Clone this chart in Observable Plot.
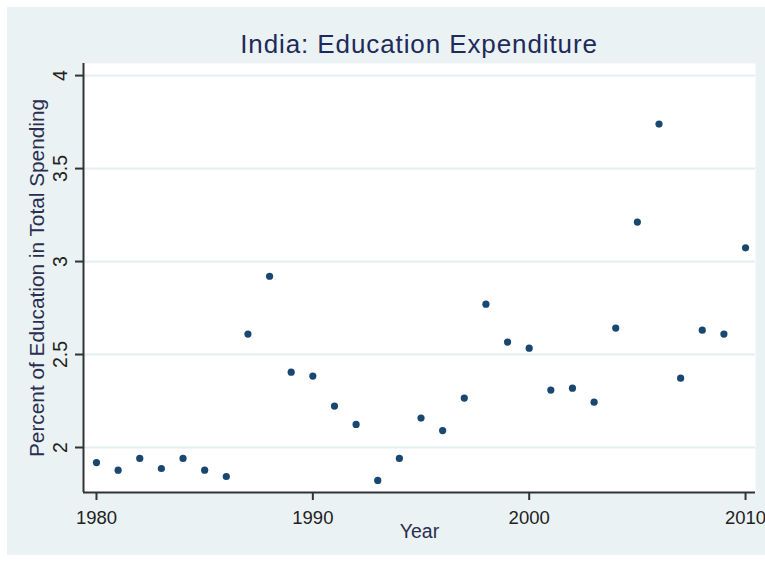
<!DOCTYPE html>
<html>
<head>
<meta charset="utf-8">
<script src="https://cdn.jsdelivr.net/npm/d3@7"></script>
<script src="https://cdn.jsdelivr.net/npm/@observablehq/plot@0.6"></script>
<style>
  html, body { margin: 0; padding: 0; background: #ffffff; }
  #outer { position: relative; width: 765px; height: 563px; background: #ffffff; }
  #inner { position: absolute; left: 7px; top: 7px; width: 758px; height: 548px; background: #eaf2f3; }
  #title { position: absolute; left: 76px; width: 672px; top: 22px; text-align: center;
           font-family: "Liberation Sans", Arial, sans-serif; font-size: 26px; line-height: 30px;
           letter-spacing: 0.9px; color: #1e2a5a; white-space: nowrap; }
  #chart { position: absolute; left: 0; top: 50px; }
  #chart svg { overflow: visible; }
</style>
</head>
<body>
<div id="outer">
  <div id="inner">
    <div id="title">India: Education Expenditure</div>
    <div id="chart"></div>
  </div>
</div>
<script>
const years = [1980,1981,1982,1983,1984,1985,1986,1987,1988,1989,1990,1991,1992,1993,1994,1995,1996,1997,1998,1999,2000,2001,2002,2003,2004,2005,2006,2007,2008,2009,2010];
const values = [1.919,1.878,1.941,1.887,1.941,1.878,1.844,2.610,2.921,2.405,2.384,2.223,2.124,1.823,1.941,2.158,2.091,2.266,2.771,2.567,2.534,2.309,2.319,2.244,2.642,3.212,3.739,2.373,2.631,2.610,3.074];
const xTicks = [1980, 1990, 2000, 2010];
const yTicks = [2, 2.5, 3, 3.5, 4];
const xTitle = "Year";
const yTitle = "Percent of Education in Total Spending";
const xDomain = [1979.4, 2010.46];
const yDomain = [1.758, 4.065];

const data = years.map((y, i) => ({year: y, value: values[i]}));
const font = "'Liberation Sans', Arial, sans-serif";
const axisColor = "#333333";

const chart = Plot.plot({
  width: 758,
  height: 498,
  marginLeft: 76,
  marginRight: 10,
  marginTop: 6,
  marginBottom: 63,
  style: {fontFamily: font, background: "transparent", overflow: "visible"},
  x: {domain: xDomain, axis: null, label: null},
  y: {domain: yDomain, axis: null, label: null},
  marks: [
    Plot.frame({fill: "white", stroke: null}),
    Plot.ruleY(yTicks, {stroke: "#e4edf0", strokeWidth: 2}),
    // left & bottom axis lines at the domain bounds
    Plot.ruleX([xDomain[0]], {stroke: axisColor, strokeWidth: 2}),
    Plot.ruleY([yDomain[0]], {stroke: axisColor, strokeWidth: 2}),
    // tick marks
    Plot.axisX({ticks: xTicks, tickSize: 8, tickFormat: () => "", label: null, stroke: axisColor, strokeWidth: 2}),
    Plot.axisY({ticks: yTicks, tickSize: 8, tickFormat: () => "", label: null, stroke: axisColor, strokeWidth: 2}),
    // x tick labels
    Plot.text(xTicks, {x: d => d, frameAnchor: "bottom", dy: 26, text: d => String(d),
      fontSize: 18.5, fill: "#222", lineAnchor: "middle", textAnchor: "middle"}),
    // y tick labels (rotated)
    Plot.text(yTicks, {y: d => d, frameAnchor: "left", dx: -23, rotate: -90, text: d => String(d),
      fontSize: 19.5, fill: "#222", lineAnchor: "middle", textAnchor: "middle"}),
    // axis titles
    Plot.text([xTitle], {frameAnchor: "bottom", dy: 39, text: d => d, fontSize: 19.5, fill: "#2a2e50",
      lineAnchor: "middle", textAnchor: "middle"}),
    Plot.text([yTitle], {frameAnchor: "left", dx: -46, rotate: -90, text: d => d, fontSize: 20.8,
      fill: "#2a2e50", lineAnchor: "middle", textAnchor: "middle"}),
    // data
    Plot.dot(data, {x: "year", y: "value", r: 3.6, fill: "#1a476f", stroke: null})
  ]
});
document.getElementById("chart").appendChild(chart);
</script>
</body>
</html>
